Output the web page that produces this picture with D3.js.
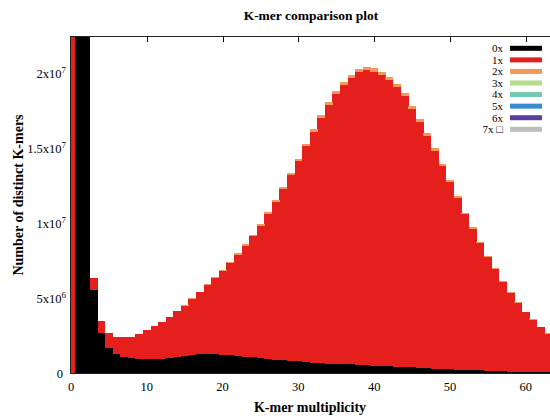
<!DOCTYPE html>
<html>
<head>
<meta charset="utf-8">
<script src="https://cdn.jsdelivr.net/npm/d3@7/dist/d3.min.js"></script>
<style>
  body { margin: 0; background: #fff; }
  text { font-family: "Liberation Serif", "Times New Roman", serif; fill: #000; }
</style>
</head>
<body>
<svg id="chart" width="550" height="416"></svg>
<script>
// K-mer multiplicity bins (x)
const multiplicity = [0,1,2,3,4,5,6,7,8,9,10,11,12,13,14,15,16,17,18,19,20,21,22,23,24,25,26,27,28,29,30,31,
  32,33,34,35,36,37,38,39,40,41,42,43,44,45,46,47,48,49,50,51,52,53,54,55,56,57,58,59,60,61,62,63];

// Distinct k-mer counts (millions) per copy-number class, stacked in this order
const absent0x = [0,120,32,5.52,2.66,1.70,1.30,1.10,1.00,0.93,0.92,0.93,0.96,1.01,1.08,1.16,1.21,1.25,1.27,1.26,
  1.23,1.19,1.14,1.09,1.04,0.99,0.94,0.89,0.85,0.81,0.77,0.74,0.70,0.66,0.63,0.61,0.59,0.57,0.55,0.52,
  0.50,0.48,0.45,0.42,0.39,0.37,0.34,0.32,0.29,0.27,0.25,0.23,0.21,0.19,0.17,0.15,0.13,0.12,0.10,0.09,
  0.08,0.07,0.06,0.05];
const copy1x = [25,0.5,0.5,0.80,0.80,0.96,1.11,1.27,1.41,1.66,1.93,2.18,2.44,2.71,3.04,3.33,3.73,4.12,4.59,5.08,
  5.58,6.16,6.76,7.41,8.07,8.84,9.68,10.52,11.44,12.36,13.35,14.37,15.38,16.36,17.27,18.01,18.63,19.09,19.49,19.65,
  19.60,19.41,19.10,18.64,18.07,17.25,16.40,15.50,14.54,13.52,12.49,11.45,10.37,9.42,8.49,7.57,6.78,5.96,5.26,4.61,
  3.96,3.47,2.99,2.57];
const copy2x = [0,0,0,0.01,0.01,0.01,0.01,0.01,0.01,0.01,0.02,0.02,0.02,0.03,0.03,0.04,0.04,0.05,0.05,0.06,
  0.06,0.07,0.08,0.08,0.09,0.10,0.11,0.12,0.13,0.14,0.15,0.16,0.17,0.18,0.19,0.20,0.20,0.21,0.21,0.21,
  0.21,0.20,0.20,0.19,0.19,0.18,0.17,0.16,0.15,0.14,0.13,0.12,0.11,0.10,0.09,0.08,0.07,0.07,0.06,0.05,
  0.05,0.04,0.04,0.03];

const legendLabels = ["0x","1x","2x","3x","4x","5x","6x","7x \u25A1"];
const legendColors = ["#000000","#e41f1c","#f4975a","#b4dd8c","#72cbb2","#3a8ad2","#5a3f9c","#bdbdbd"];

const xTicks = [0,10,20,30,40,50,60];
const yTicks = [0,5e6,1e7,1.5e7,2e7];
const yTickMant = ["0","5x10","1x10","1.5x10","2x10"];
const yTickExp = ["","6","7","7","7"];

const svg = d3.select("#chart");
const plotLeft = 71, plotTop = 37, plotBottom = 373, plotRight = 556;

const x = d3.scaleLinear().domain([0, 64]).range([plotLeft, plotRight]);
const y = d3.scaleLinear().domain([0, 2.24e7]).range([plotBottom, plotTop]);

svg.append("defs").append("clipPath").attr("id", "plotClip")
  .append("rect").attr("x", plotLeft).attr("y", plotTop)
  .attr("width", plotRight - plotLeft).attr("height", plotBottom - plotTop);

// Inward ticks (behind bars), mirrored on the top edge
const tickG = svg.append("g").attr("stroke", "#000").attr("stroke-width", 1);
xTicks.forEach(t => {
  const px = Math.round(x(t)) + 0.5;
  tickG.append("line").attr("x1", px).attr("x2", px).attr("y1", plotBottom).attr("y2", plotBottom - 5);
  tickG.append("line").attr("x1", px).attr("x2", px).attr("y1", plotTop).attr("y2", plotTop + 5);
});
yTicks.forEach(t => {
  const py = Math.round(y(t)) + 0.5;
  tickG.append("line").attr("x1", plotLeft).attr("x2", plotLeft + 5).attr("y1", py).attr("y2", py);
});

// Stacked histogram
const rows = multiplicity.map((m, i) => ({
  m, "0x": absent0x[i] * 1e6, "1x": copy1x[i] * 1e6, "2x": copy2x[i] * 1e6
}));
const keys = ["0x", "1x", "2x"];
const stack = d3.stack().keys(keys)(rows);

const bars = svg.append("g").attr("clip-path", "url(#plotClip)");
stack.forEach((layer, li) => {
  bars.append("g").attr("fill", legendColors[li])
    .selectAll("rect").data(layer).join("rect")
    .attr("x", d => x(d.data.m - 0.5))
    .attr("width", d => x(d.data.m + 0.5) - x(d.data.m - 0.5) + 0.3)
    .attr("y", d => y(d[1]))
    .attr("height", d => Math.max(0, y(d[0]) - y(d[1])))
    .attr("shape-rendering", "crispEdges");
});

// Plot border
svg.append("rect").attr("x", plotLeft - 0.5).attr("y", plotTop - 0.5)
  .attr("width", plotRight - plotLeft + 1).attr("height", plotBottom - plotTop + 1)
  .attr("fill", "none").attr("stroke", "#222").attr("stroke-width", 1);

// Axis tick labels
const xLab = svg.append("g").attr("font-size", 12.5).attr("text-anchor", "middle");
xTicks.forEach(t => {
  xLab.append("text").attr("x", x(t)).attr("y", 391).text(t);
});
const yLab = svg.append("g").attr("font-size", 12.5).attr("text-anchor", "end");
yTicks.forEach((t, i) => {
  const txt = yLab.append("text").attr("x", yTickExp[i] ? 66 : 63).attr("y", y(t) + 4.5);
  txt.append("tspan").text(yTickMant[i]);
  if (yTickExp[i]) txt.append("tspan").attr("dy", -5).attr("font-size", 9).text(yTickExp[i]);
});

// Titles
svg.append("text").attr("x", 311).attr("y", 20).attr("text-anchor", "middle")
  .attr("font-size", 13.5).attr("font-weight", "bold").text("K-mer comparison plot");
svg.append("text").attr("x", 310).attr("y", 412).attr("text-anchor", "middle")
  .attr("font-size", 14).attr("font-weight", "bold").text("K-mer multiplicity");
svg.append("text").attr("transform", "translate(23,195) rotate(-90)").attr("text-anchor", "middle")
  .attr("font-size", 14).attr("font-weight", "bold").text("Number of distinct K-mers");

// Legend
const leg = svg.append("g");
legendLabels.forEach((lab, i) => {
  const cy = 48.3 + i * 11.57;
  leg.append("text").attr("x", 503).attr("y", cy + 3.8).attr("text-anchor", "end")
    .attr("font-size", 11).text(lab);
  leg.append("rect").attr("x", 510).attr("y", cy - 2.5).attr("width", 32).attr("height", 5)
    .attr("fill", legendColors[i]);
});
</script>
</body>
</html>
